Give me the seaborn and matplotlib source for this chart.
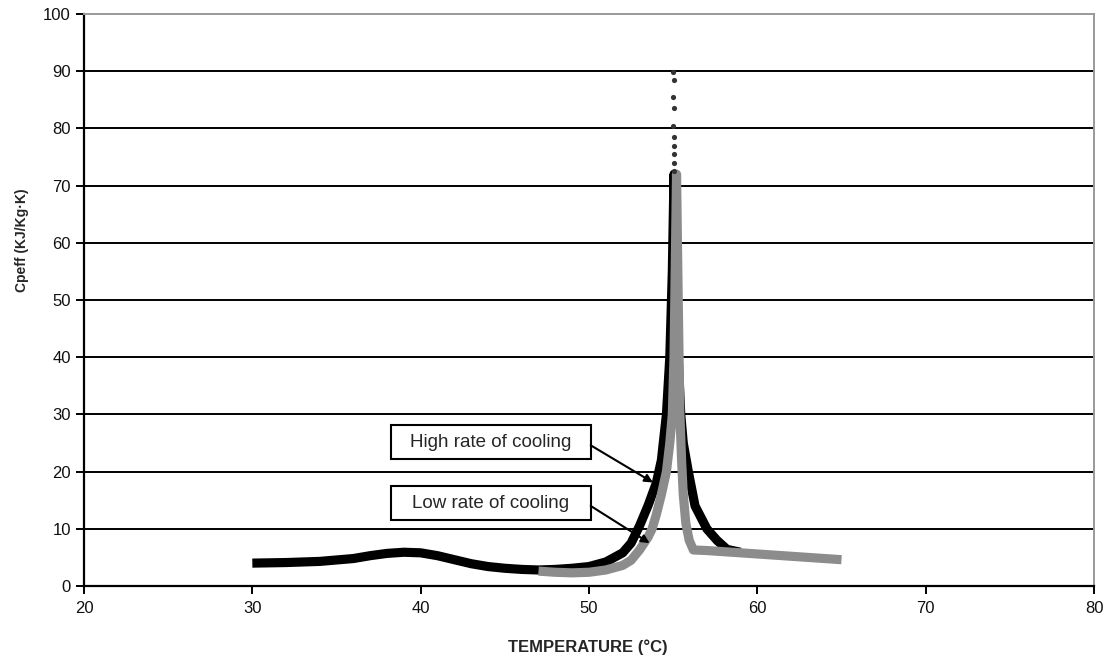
import matplotlib
matplotlib.use("Agg")
import matplotlib.pyplot as plt
from matplotlib.patches import Rectangle
import seaborn as sns

# high rate of cooling (black)
high_temp = [30, 32, 34, 36, 37, 38, 39, 40, 41, 42, 43, 44, 45, 46, 47, 48, 49, 50,
             51, 52, 52.5, 53, 53.5, 54, 54.3, 54.6, 54.8, 54.95, 55.05,
             55.15, 55.3, 55.45, 55.6, 55.9, 56.3, 57.0, 57.6, 58.2, 59.0]
high_cp = [4.0, 4.1, 4.3, 4.8, 5.3, 5.7, 5.9, 5.8, 5.3, 4.6, 3.9, 3.4, 3.1, 2.9, 2.8, 2.9, 3.1, 3.4,
           4.2, 5.8, 7.5, 10.5, 14, 18, 22, 30, 40, 55, 72,
           55, 40, 30, 25, 20, 14, 10, 8, 6.4, 5.9]

# low rate of cooling (grey)
low_temp = [47, 48, 49, 50, 51, 52, 52.5, 53, 53.5, 53.75, 54, 54.3, 54.6, 54.8, 54.95,
            55.05, 55.12, 55.2, 55.3, 55.4, 55.5, 55.6, 55.75, 55.95, 56.2,
            57, 58, 59, 60, 61, 62, 63, 64, 65]
low_cp = [2.6, 2.4, 2.3, 2.4, 2.8, 3.6, 4.5, 6.3, 8.5, 10, 12.5, 16, 20, 25, 30,
          40, 55, 72, 50, 30, 22, 16, 11, 8, 6.3,
          6.2, 6.0, 5.8, 5.6, 5.4, 5.2, 5.0, 4.8, 4.6]

# sparse points at the top of the peak
peak_temp = [55.0, 55.02, 55.0, 55.03, 55.0, 55.05, 55.02, 55.04, 55.06, 55.03]
peak_cp = [89.8, 88.5, 85.5, 83.5, 80.5, 78.5, 77, 75.5, 74, 72.5]

x_ticks = [20, 30, 40, 50, 60, 70, 80]
y_ticks = [0, 10, 20, 30, 40, 50, 60, 70, 80, 90, 100]

sns.set_style("white")
plt.rcParams['font.family'] = ['Liberation Sans', 'DejaVu Sans']

fig = plt.figure(figsize=(11.11, 6.57), dpi=100)
ax = fig.add_axes([84 / 1111, 1 - 586 / 657, (1094 - 84) / 1111, (586 - 14) / 657])

for v in y_ticks[1:-1]:
    ax.axhline(v, color='black', lw=1.4, zorder=1)

sns.lineplot(x=high_temp, y=high_cp, sort=False, color='black', linewidth=6.6,
             solid_capstyle='butt', ax=ax, zorder=3)
sns.lineplot(x=low_temp, y=low_cp, sort=False, color='#8c8c8c', linewidth=6.6,
             solid_capstyle='butt', ax=ax, zorder=4)
sns.scatterplot(x=peak_temp, y=peak_cp, color='#333333', s=14, linewidth=0, ax=ax, zorder=5)

ax.set_xlim(20, 80)
ax.set_ylim(0, 100)
ax.set_xticks(x_ticks)
ax.set_yticks(y_ticks)
ax.tick_params(axis='both', direction='out', length=6, width=1.4, color='black',
               labelsize=12, labelcolor='#111111', bottom=True, left=True)
ax.tick_params(axis='x', pad=5)

for side in ['left', 'bottom']:
    ax.spines[side].set_color('black')
    ax.spines[side].set_linewidth(1.6)
for side in ['top', 'right']:
    ax.spines[side].set_color('#999999')
    ax.spines[side].set_linewidth(1.4)

ax.set_xlabel('TEMPERATURE (°C)', fontsize=12, fontweight='bold', va='center')
ax.set_ylabel('Cpeff (KJ/Kg·K)', fontsize=10, fontweight='bold', va='center')
ax.xaxis.set_label_coords(0.499, -0.107)
ax.yaxis.set_label_coords(-0.061, 0.605)

# callout boxes
boxes = [(22.2, 28.1, 'High rate of cooling', 24.6, (53.8, 18.1)),
         (11.5, 17.5, 'Low rate of cooling', 14.0, (53.6, 7.5))]
for y0, y1, label, ya, head in boxes:
    ax.add_patch(Rectangle((38.25, y0), 50.1 - 38.25, y1 - y0, facecolor='white',
                           edgecolor='black', lw=1.5, zorder=6))
    ax.text((38.25 + 50.1) / 2, (y0 + y1) / 2, label, ha='center', va='center',
            fontsize=13.5, zorder=7)
    ax.annotate('', xy=head, xytext=(50.1, ya),
                arrowprops=dict(arrowstyle='-|>', color='black', lw=1.5,
                                mutation_scale=12, shrinkA=0, shrinkB=0), zorder=7)

fig.savefig('out.png', dpi=100)
